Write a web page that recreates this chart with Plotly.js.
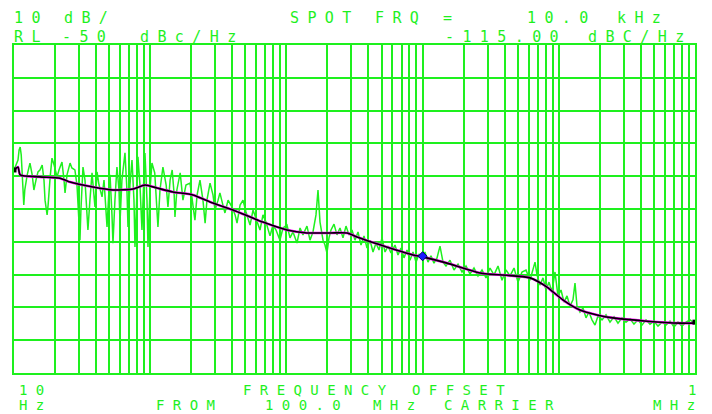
<!DOCTYPE html>
<html>
<head>
<meta charset="utf-8">
<script src="https://cdn.plot.ly/plotly-3.0.1.min.js"></script>
<style>
  html, body { margin: 0; padding: 0; background: #ffffff; }
  #chart { width: 712px; height: 414px; }
  .annotation-text { letter-spacing: 8.4px; }
</style>
</head>
<body>
<div id="chart"></div>
<script>
// ---- data ----
const noiseHz = [10,10.3,10.7,10.9,11.1,11.3,11.5,11.6,11.8,12.0,12.5,12.9,13.1,13.6,14.0,14.5,15.0,15.5,16.1,16.6,16.9,17.5,17.8,18.4,19.0,19.7,20.7,21.4,22.5,23.3,23.7,24.5,25.8,26.6,28.0,29.0,30.0,30.5,31.0,32.1,33.2,34.9,36.1,37.4,39.3,40.7,42.1,44.3,45.8,48.2,49.8,50.7,52.4,53.3,55.1,57.0,59.0,60.0,62.0,65.3,67.5,68.7,71.0,73.5,76.0,77.3,80.0,81.3,84.1,87.0,90.0,91.5,94.7,96.3,99.6,
  103,108,114,118,124,131,135,140,145,150,152,157,166,174,183,196,206,213,221,232,244,253,261,275,289,299,315,325,342,354,373,399,420,434,457,480,505,541,569,598,640,673,708,758,797,839,897,944,
  1010,1063,1118,1196,1259,1324,1416,1490,1567,1649,1706,1765,1857,1920,1986,2055,2126,2236,2352,2475,2604,2739,2882,3031,3189,3355,3530,3714,3907,4110,4324,4549,4786,5035,5297,5572,5862,6272,6598,6941,7303,7682,8082,8502,8945,9410,9899,
  10410,10950,11520,12120,12760,13420,14120,14850,15890,17000,18200,19470,20830,22280,23840,25510,27300,29210,31250,33440,35780,38280,40960,43830,46900,50170,53690,57440,61450,64670,66890,69180,72780,76560,80540,84720,89130,93760,98630,
  103800,109200,114900,120800,127100,131500,136000,143100,150500,158400,166600,175300,184400,194000,207600,222100,237600,254300,272000,291100,311400,333200,356500,381500,408200,436800,467300,500000,535000,572400,612500,655300,701200,750200,802700,858800,919000,966700,1000000];
const noiseDb = [-88.1,-86.6,-85.1,-82.0,-81.1,-83.5,-88.1,-92.7,-98.8,-94.2,-89.6,-87.5,-86.0,-89.6,-94.2,-91.2,-88.7,-88.1,-86.6,-91.2,-97.3,-101.8,-98.8,-90.6,-84.5,-86.6,-90.2,-88.1,-85.7,-91.2,-95.1,-89.6,-86.0,-87.5,-88.1,-92.7,-103.4,-109.5,-100.3,-87.2,-91.2,-106.4,-97.3,-89.0,-99.4,-88.7,-92.7,-96.3,-91.2,-105.5,-94.2,-89.6,-101.8,-110.4,-97.3,-87.2,-94.2,-104.3,-91.2,-82.9,-94.2,-105.5,-92.7,-85.1,-97.3,-111.6,-94.2,-84.1,-92.7,-106.4,-89.6,-82.9,-97.3,-111.6,-94.2,
  -86.0,-89.0,-105.5,-94.2,-87.2,-92.7,-99.4,-91.2,-88.1,-95.7,-102.4,-94.2,-89.0,-97.3,-92.7,-92.1,-98.8,-103.4,-95.7,-91.2,-97.3,-104.3,-97.3,-92.1,-95.7,-100.3,-97.3,-95.1,-98.8,-101.2,-97.3,-99.4,-101.8,-104.3,-98.8,-97.3,-100.9,-104.9,-100.3,-102.7,-106.4,-101.8,-104.0,-108.2,-104.9,-106.4,-109.5,-105.8,
  -104.9,-108.8,-107.0,-110.4,-105.8,-107.9,-105.2,-109.5,-107.0,-101.8,-94.2,-104.0,-109.5,-111.0,-113.4,-108.8,-106.4,-104.6,-107.9,-105.8,-108.8,-105.2,-107.9,-106.4,-109.5,-107.0,-111.0,-108.2,-111.9,-109.5,-113.1,-110.4,-112.5,-108.8,-113.1,-111.3,-113.4,-111.0,-114.0,-111.9,-114.9,-112.5,-115.6,-113.1,-116.2,-113.7,-114.9,
  -113.1,-116.2,-114.3,-116.5,-114.9,-111.3,-116.2,-117.4,-115.6,-118.6,-116.8,-119.2,-117.4,-119.8,-118.0,-120.4,-118.6,-121.0,-118.0,-120.1,-117.4,-121.7,-118.6,-120.4,-118.0,-122.3,-119.2,-118.6,-121.7,-118.0,-116.2,-120.1,-123.2,-121.0,-124.7,-122.3,-125.3,-119.2,-126.5,
  -124.7,-128.4,-126.5,-129.6,-127.7,-122.6,-129.6,-131.4,-130.2,-133.2,-131.4,-133.8,-135.4,-132.6,-133.8,-132.3,-134.5,-132.9,-134.8,-133.2,-134.5,-133.5,-135.1,-133.8,-135.4,-133.8,-135.1,-134.2,-135.7,-134.5,-135.4,-134.2,-136.0,-134.5,-135.7,-134.5,-133.8,-134.5,-134.2];

const smoothHz = [10,10.7,11.1,15.5,21.8,25.8,38,53.3,74.8,91.6,112,147,206,289,405,673,1009,1415,2089,2786,3297,4864,8511,10000,15100,26400,61500,81900,107000,143000,191000,250000,444000,777000,966000,1000000];
const smoothDb = [-88.1,-87.2,-89.6,-90.2,-90.6,-91.8,-93.3,-94.2,-93.9,-92.7,-93.6,-94.8,-95.7,-98.2,-100.3,-104.0,-106.4,-107.3,-107.3,-107.3,-108.5,-110.9,-114.0,-114.6,-116.5,-119.5,-121.0,-123.8,-127.7,-130.8,-132.3,-133.2,-134.2,-134.8,-134.8,-134.5];

const spotHz = [10000];
const spotDb = [-114.4];
const endHz = [10, 1000000];
const endDb = [-88.1, -134.5];

const yRange = [-150, -50];
const yStep = 10;
const xRangeHz = [10, 1000000];

// text: [label, left px, centre y px, size]
const labels = [
  ["10", 14, 18, 15], ["dB/", 64, 18, 15],
  ["SPOT", 290, 18, 15], ["FRQ", 375, 18, 15], ["=", 443, 18, 15],
  ["10.0", 527, 18, 15], ["kHz", 617, 18, 15],
  ["RL", 14, 37, 15], ["-50", 62, 37, 15], ["dBc/Hz", 140, 37, 15],
  ["-115.00", 445, 37, 15], ["dBC/Hz", 588, 37, 15],
  ["10", 18, 390, 14], ["FREQUENCY", 240, 390, 14], ["OFFSET", 410, 390, 14], ["1", 688, 390, 14],
  ["Hz", 18, 405, 14], ["FROM", 154, 405, 14], ["100.0", 263, 405, 14], ["MHz", 372, 405, 14],
  ["CARRIER", 442, 405, 14], ["MHz", 652, 405, 14]
];

// ---- styling / layout ----
const GREEN = '#1ef01e';
const W = 712, H = 414;
const M = {l: 14, r: 17, t: 45, b: 41};
const pw = W - M.l - M.r, ph = H - M.t - M.b;
const PITCH = 17.5;

const gridVals = [];
for (let e = 1; e < 6; e++) for (let d = 1; d < 10; d++) gridVals.push(d * Math.pow(10, e));
gridVals.push(1000000);

const annotations = labels.map(([t, left, cy, sz]) => ({
  text: t, xref: 'paper', yref: 'paper',
  x: (left + t.length * PITCH / 2 - M.l) / pw,
  y: (H - M.b - cy) / ph,
  xanchor: 'center', yanchor: 'middle', showarrow: false,
  font: {family: 'DejaVu Sans Mono', size: sz, color: GREEN},
  borderpad: 0
}));

const traces = [
  {x: noiseHz, y: noiseDb, type: 'scatter', mode: 'lines',
   line: {color: GREEN, width: 1.5}, hoverinfo: 'skip'},
  {x: smoothHz, y: smoothDb, type: 'scatter', mode: 'lines',
   line: {color: '#ff00ff', width: 2.6, shape: 'spline', smoothing: 0.6}, hoverinfo: 'skip'},
  {x: smoothHz, y: smoothDb, type: 'scatter', mode: 'lines',
   line: {color: '#000000', width: 1.6, shape: 'spline', smoothing: 0.6}, hoverinfo: 'skip'},
  {x: endHz, y: endDb, type: 'scatter', mode: 'markers',
   marker: {color: '#000000', size: 5, symbol: 'square'}, hoverinfo: 'skip'},
  {x: spotHz, y: spotDb, type: 'scatter', mode: 'markers',
   marker: {color: '#1a1aff', size: 7, symbol: 'diamond', line: {color: '#000066', width: 1}}, hoverinfo: 'skip'}
];

const layout = {
  width: W, height: H,
  margin: M,
  paper_bgcolor: '#ffffff', plot_bgcolor: '#ffffff',
  showlegend: false,
  xaxis: {
    type: 'log', range: xRangeHz.map(Math.log10),
    tickmode: 'array', tickvals: gridVals, showticklabels: false, ticks: '',
    showgrid: true, gridcolor: GREEN, gridwidth: 2,
    showline: true, linecolor: GREEN, linewidth: 2, mirror: true, zeroline: false
  },
  yaxis: {
    range: yRange, dtick: yStep, tick0: -150, showticklabels: false, ticks: '',
    showgrid: true, gridcolor: GREEN, gridwidth: 2,
    showline: true, linecolor: GREEN, linewidth: 2, mirror: true, zeroline: false
  },
  annotations: annotations
};

Plotly.newPlot('chart', traces, layout, {staticPlot: true, displayModeBar: false});
</script>
</body>
</html>
